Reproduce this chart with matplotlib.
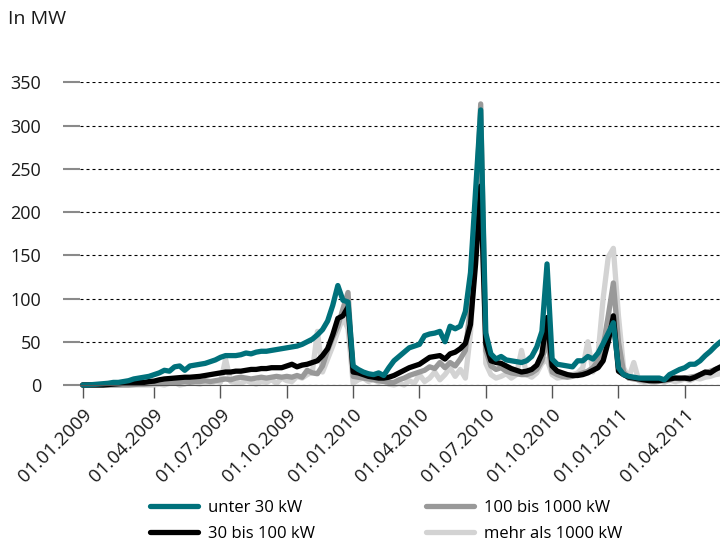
import numpy as np
import matplotlib.pyplot as plt

plt.rcParams['font.family'] = ['Open Sans', 'DejaVu Sans']

# weekly values in MW, starting 01.01.2009
unter_30 = [0, 0, 0.5, 1, 1.5, 2, 3, 3, 4, 5,
            7, 8, 9, 10, 12, 14, 17, 16, 21, 22,
            17, 22, 23, 24, 25, 27, 29, 32, 34, 34,
            34, 35, 37, 36, 38, 39, 39, 40, 41, 42,
            43, 44, 45, 47, 50, 53, 58, 64, 74, 92,
            115, 98, 96, 22, 18, 15, 13, 12, 14, 11,
            20, 28, 33, 38, 43, 45, 47, 57, 59, 60,
            62, 50, 68, 65, 68, 85, 130, 225, 318, 60,
            36, 30, 33, 29, 28, 27, 26, 28, 33, 44,
            62, 140, 30, 24, 23, 22, 21, 28, 28, 33,
            30, 37, 48, 60, 72, 20, 12, 10, 9, 8,
            8, 8, 8, 8, 6, 12, 15, 18, 20, 24,
            24, 28, 34, 39, 45, 50]
bis_100 = [0, 0, 0, 0, 0, 0.5, 1, 1.5, 2, 2.5,
           3, 3, 3, 4, 4.5, 6, 7, 7.5, 8, 8.5,
           9, 9, 9.5, 10, 11, 12, 13, 14, 15, 15,
           16, 16, 17, 18, 18, 19, 19, 20, 20, 20,
           22, 24, 21, 23, 24, 26, 28, 34, 42, 58,
           77, 80, 90, 15, 14, 12, 10, 9, 8, 8,
           9, 11, 14, 17, 20, 22, 24, 28, 32, 33,
           34, 30, 36, 38, 42, 48, 70, 140, 230, 48,
           28, 26, 25, 22, 19, 17, 15, 16, 18, 23,
           36, 78, 22, 16, 14, 12, 11, 11, 12, 14,
           17, 20, 28, 50, 80, 16, 12, 9, 8, 7,
           6, 5, 5, 5, 6, 7, 8, 8, 8, 7,
           9, 12, 15, 14, 18, 21]
bis_1000 = [0, 0, 0, 0, 0, 0, 0, 0, 0, 0,
            0.5, 1, 1, 1.5, 2, 2, 2.5, 3, 3, 3,
            4, 3, 4, 4, 5, 4, 5, 6, 7, 6,
            8, 9, 8, 7, 8, 9, 8, 9, 10, 9,
            10, 9, 11, 9, 17, 14, 13, 22, 40, 55,
            68, 88, 107, 10, 9, 8, 7, 6, 5, 4,
            3, 3, 6, 8, 11, 13, 15, 17, 21, 19,
            26, 20, 26, 22, 30, 40, 90, 200, 325, 40,
            22, 18, 20, 16, 14, 13, 12, 12, 14, 18,
            28, 55, 15, 12, 10, 9, 10, 12, 14, 16,
            20, 28, 45, 80, 118, 50, 15, 8, 7, 6,
            5, 5, 4, 5, 5, 6, 8, 7, 8, 9,
            10, 12, 14, 16, 18, 20]
ueber_1000 = [0, 0, 0, 0, 0, 0, 0, 0, 0, 0,
              0, 0, 0, 0, 0, 1, 0, 2, 3, 0,
              1, 5, 2, 1, 3, 2, 4, 3, 30, 4,
              3, 2, 5, 3, 1, 4, 3, 6, 2, 8,
              5, 4, 10, 8, 12, 15, 62, 15, 30, 45,
              62, 78, 65, 2, 6, 8, 4, 7, 3, 5,
              1, 0, 2, 0, 5, 2, 12, 4, 8, 15,
              6, 12, 20, 10, 18, 8, 60, 160, 240, 25,
              12, 8, 10, 13, 8, 12, 40, 12, 9, 14,
              25, 30, 12, 8, 9, 10, 12, 14, 20, 50,
              15, 35, 100, 148, 158, 80, 20, 8, 26, 5,
              3, 4, 2, 5, 3, 6, 4, 5, 7, 5,
              8, 7, 9, 10, 12, 13]

tick_weeks = [0, 14, 27, 40, 53, 66, 79, 92, 105, 118]
tick_labels = ['01.01.2009', '01.04.2009', '01.07.2009', '01.10.2009',
               '01.01.2010', '01.04.2010', '01.07.2010', '01.10.2010',
               '01.01.2011', '01.04.2011']

fig = plt.figure(figsize=(7.2, 5.47), dpi=100)
ax = fig.add_axes([80/720, (547-385)/547, 640/720, (385-82.3)/547])

x = np.arange(len(unter_30))
kw = dict(lw=3.8, solid_joinstyle='round', solid_capstyle='round', clip_on=False)
l4, = ax.plot(x, ueber_1000, color='#d3d3d3', label='mehr als 1000 kW', **kw)
l3, = ax.plot(x, bis_1000, color='#999999', label='100 bis 1000 kW', **kw)
l2, = ax.plot(x, bis_100, color='#000000', label='30 bis 100 kW', **kw)
l1, = ax.plot(x, unter_30, color='#00717b', label='unter 30 kW', **kw)

ax.set_xlim(-0.53, 124.9)
ax.set_ylim(0, 350)
ax.set_yticks(range(0, 351, 50))
ax.set_xticks(tick_weeks)
ax.set_xticklabels(tick_labels, rotation=45, ha='right', va='top',
                   rotation_mode='anchor')

ax.yaxis.grid(True, color='black', lw=0.8, linestyle=(0, (2.7, 2.7)))
ax.set_axisbelow(True)
for s in ['top', 'right', 'left']:
    ax.spines[s].set_visible(False)
ax.spines['bottom'].set_color('#555555')
ax.spines['bottom'].set_linewidth(0.8)

ax.tick_params(axis='y', length=12, width=1.5, color='#8a8a8a', pad=16,
               labelsize=13, labelcolor='#1a1a1a')
ax.tick_params(axis='x', length=9.5, width=1, color='#555555', pad=5,
               labelsize=13.5, labelcolor='#1a1a1a')

fig.text(8/720, 1 - 19/547, 'In MW', fontsize=14, va='center', color='#1a1a1a')

leg_kw = dict(loc='center left', frameon=False, fontsize=12, handlelength=2.9,
              handletextpad=0.6, labelspacing=0.62, borderpad=0, borderaxespad=0)
fig.legend([l1, l2], ['unter 30 kW', '30 bis 100 kW'],
           bbox_to_anchor=(150/720, (547-521)/547), **leg_kw)
fig.legend([l3, l4], ['100 bis 1000 kW', 'mehr als 1000 kW'],
           bbox_to_anchor=(426/720, (547-521)/547), **leg_kw)

fig.savefig('out.png', dpi=100)
